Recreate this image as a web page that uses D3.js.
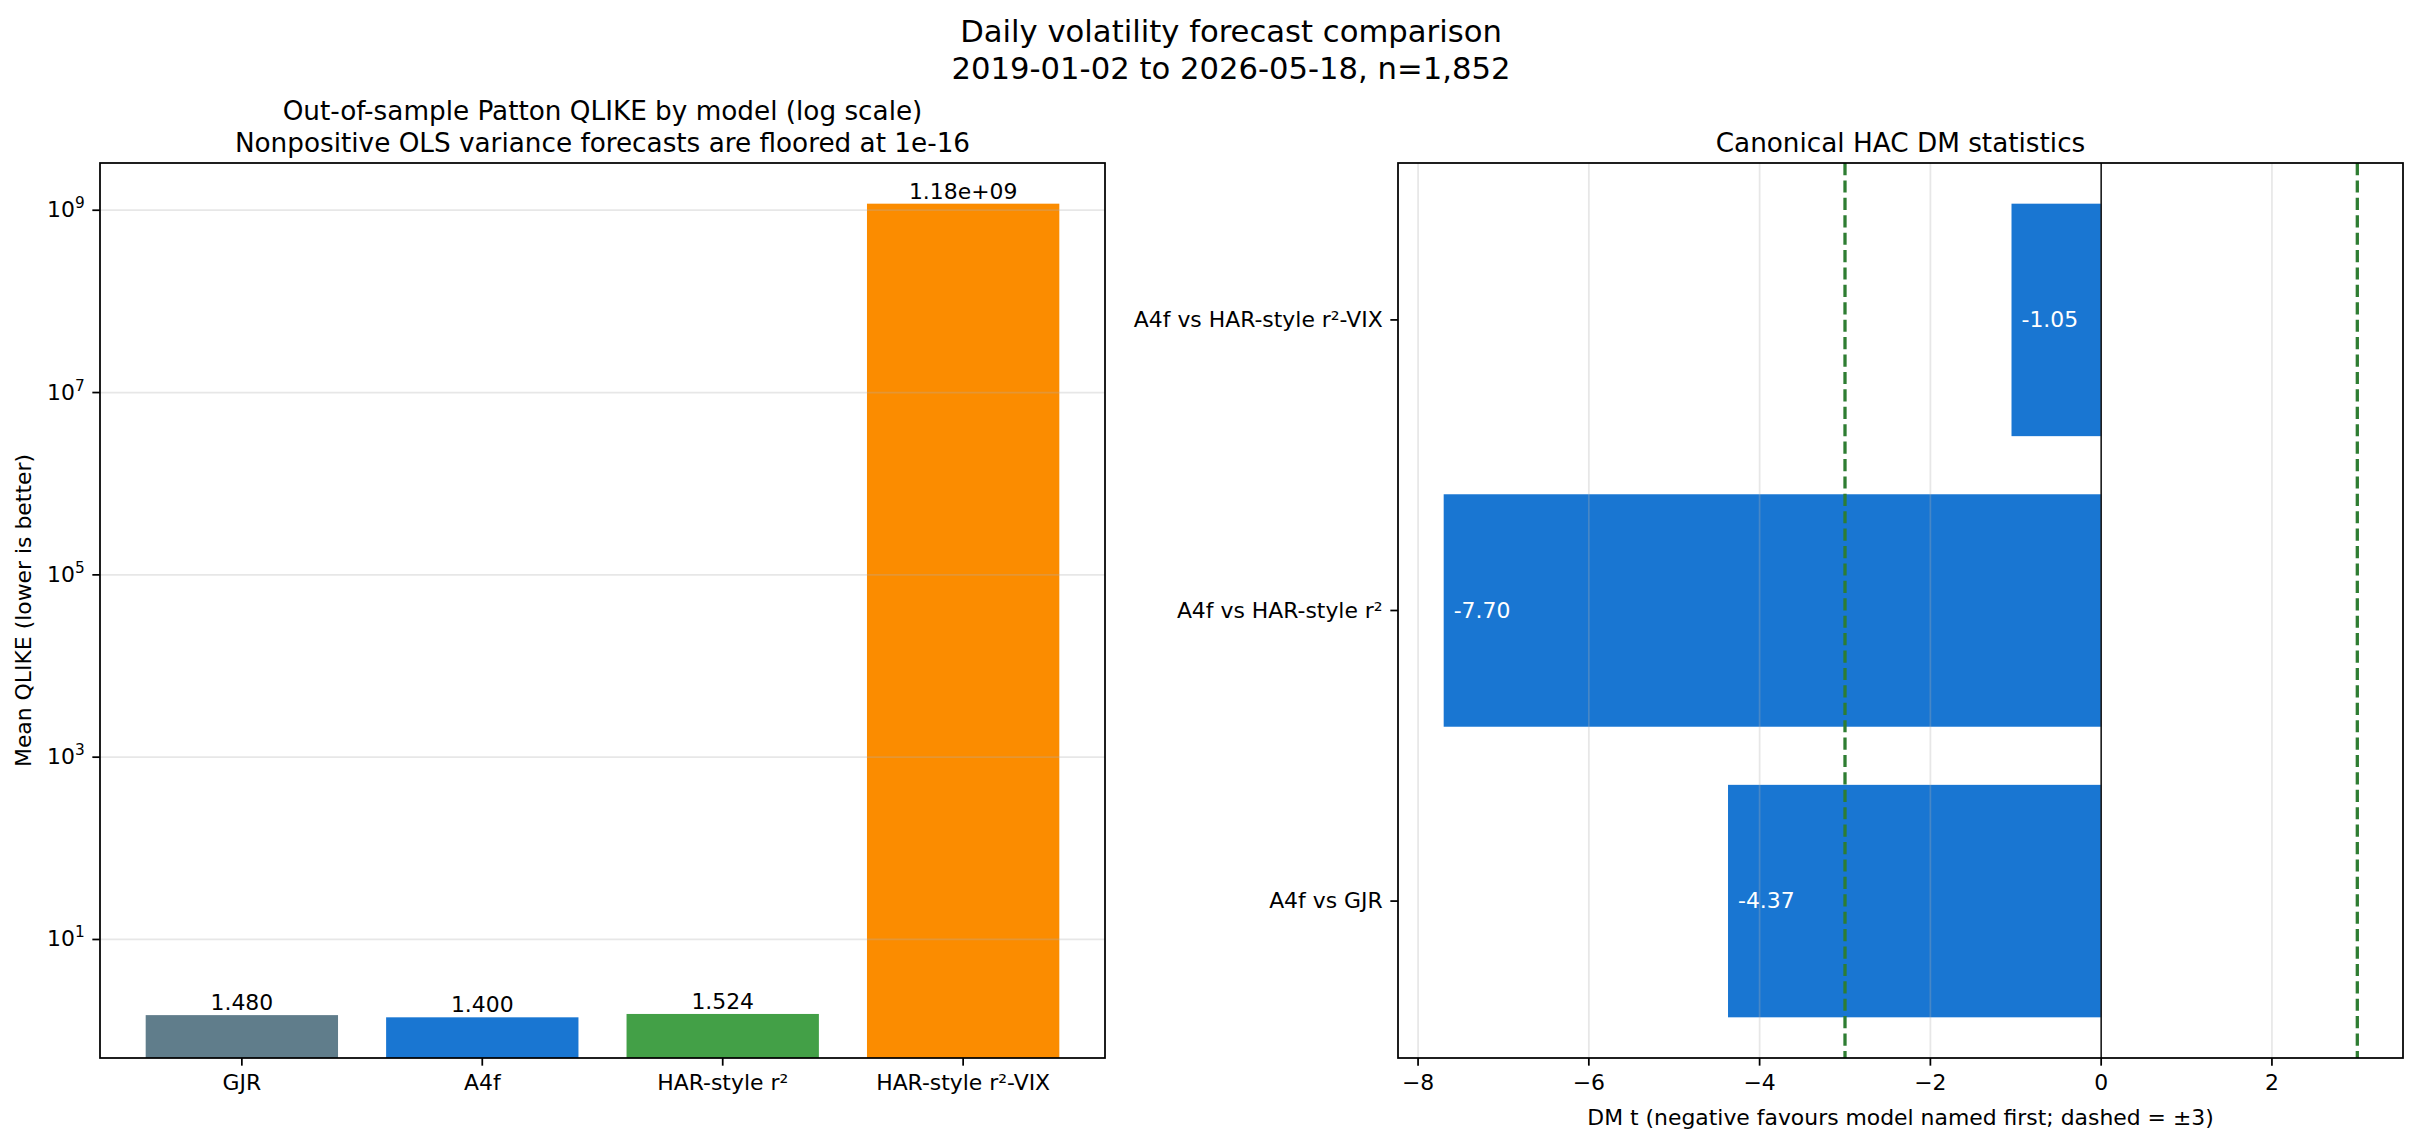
<!DOCTYPE html>
<html>
<head>
<meta charset="utf-8">
<script src="https://cdn.jsdelivr.net/npm/d3@7"></script>
<style>
  body { margin: 0; background: #fff; }
  svg { display: block; font-family: "DejaVu Sans", sans-serif; }
</style>
</head>
<body>
<div id="container"></div>
<script>
// data
var models = ["GJR", "A4f", "HAR-style r²", "HAR-style r²-VIX"];
var qlike = [1.480, 1.400, 1.524, 1.18e9];
var qlikeLabels = ["1.480", "1.400", "1.524", "1.18e+09"];
var modelColors = ["#607d8b", "#1976d2", "#43a047", "#fb8c00"];

var pairs = ["A4f vs GJR", "A4f vs HAR-style r²", "A4f vs HAR-style r²-VIX"];
var dmStat = [-4.37, -7.70, -1.05];
var dmLabels = ["-4.37", "-7.70", "-1.05"];
var dmThreshold = 3;
var logTicks = [1, 3, 5, 7, 9];
var dmTicks = [-8, -6, -4, -2, 0, 2];

var width = 2418, height = 1138;
var pt = 2.19; // px per point
var fs = 10 * pt;

var svg = d3.select("#container").append("svg")
  .attr("width", width)
  .attr("height", height);

svg.append("rect").attr("width", width).attr("height", height).style("fill", "white");

// suptitle
var sup = svg.append("text")
  .attr("text-anchor", "middle")
  .style("font-size", (14 * pt) + "px")
  .style("fill", "#000");
sup.append("tspan").attr("x", 1231).attr("y", 42).text("Daily volatility forecast comparison");
sup.append("tspan").attr("x", 1231).attr("y", 42 + 14 * pt * 1.2).text("2019-01-02 to 2026-05-18, n=1,852");

// ---------- left panel ----------
var L = {left: 100, right: 1105, top: 163, bottom: 1058};

var lo = Math.log10(d3.min(qlike)), hi = Math.log10(d3.max(qlike));
var pad = (hi - lo) * 0.05;
var yLog = d3.scaleLog()
  .domain([Math.pow(10, lo - pad), Math.pow(10, hi + pad)])
  .range([L.bottom, L.top]);

var xIdx = d3.scaleLinear()
  .domain([-0.59, models.length - 1 + 0.59])
  .range([L.left, L.right]);

var gL = svg.append("g");

gL.selectAll(".bar")
  .data(qlike)
  .enter().append("rect")
  .attr("x", function(d, i) { return xIdx(i - 0.4); })
  .attr("width", function(d, i) { return xIdx(i + 0.4) - xIdx(i - 0.4); })
  .attr("y", function(d) { return yLog(d); })
  .attr("height", function(d) { return L.bottom - yLog(d); })
  .style("fill", function(d, i) { return modelColors[i]; });

// grid over bars
gL.selectAll(".gridy")
  .data(logTicks)
  .enter().append("line")
  .attr("x1", L.left).attr("x2", L.right)
  .attr("y1", function(d) { return yLog(Math.pow(10, d)); })
  .attr("y2", function(d) { return yLog(Math.pow(10, d)); })
  .style("stroke", "#b0b0b0").style("stroke-opacity", 0.3).style("stroke-width", 0.8 * pt);

gL.selectAll(".barlabel")
  .data(qlike)
  .enter().append("text")
  .attr("x", function(d, i) { return xIdx(i); })
  .attr("y", function(d) { return yLog(d) - 5; })
  .attr("text-anchor", "middle")
  .style("font-size", fs + "px")
  .text(function(d, i) { return qlikeLabels[i]; });

// y ticks
var yt = gL.selectAll(".ytick").data(logTicks).enter().append("g")
  .attr("transform", function(d) { return "translate(0," + yLog(Math.pow(10, d)) + ")"; });
yt.append("line").attr("x1", L.left - 3.5 * pt).attr("x2", L.left)
  .style("stroke", "#000").style("stroke-width", 0.8 * pt);
var ytt = yt.append("text")
  .attr("x", L.left - 7 * pt)
  .attr("y", 7)
  .attr("text-anchor", "end")
  .style("font-size", fs + "px");
ytt.append("tspan").text("10");
ytt.append("tspan").attr("dy", -9).style("font-size", (fs * 0.7) + "px").text(function(d) { return d; });

// x ticks
var xt = gL.selectAll(".xtick").data(models).enter().append("g")
  .attr("transform", function(d, i) { return "translate(" + xIdx(i) + ",0)"; });
xt.append("line").attr("y1", L.bottom).attr("y2", L.bottom + 3.5 * pt)
  .style("stroke", "#000").style("stroke-width", 0.8 * pt);
xt.append("text").attr("y", L.bottom + 7 * pt + 0.76 * fs)
  .attr("text-anchor", "middle").style("font-size", fs + "px")
  .text(function(d) { return d; });

gL.append("rect")
  .attr("x", L.left).attr("y", L.top)
  .attr("width", L.right - L.left).attr("height", L.bottom - L.top)
  .style("fill", "none").style("stroke", "#000").style("stroke-width", 0.8 * pt);

gL.append("text")
  .attr("transform", "translate(31," + (L.top + L.bottom) / 2 + ") rotate(-90)")
  .attr("text-anchor", "middle")
  .style("font-size", fs + "px")
  .text("Mean QLIKE (lower is better)");

var tL = gL.append("text").attr("text-anchor", "middle").style("font-size", (12 * pt) + "px");
tL.append("tspan").attr("x", (L.left + L.right) / 2).attr("y", L.top - 6 * pt - 12 * pt * 1.2 + 2)
  .text("Out-of-sample Patton QLIKE by model (log scale)");
tL.append("tspan").attr("x", (L.left + L.right) / 2).attr("y", L.top - 6 * pt + 2)
  .text("Nonpositive OLS variance forecasts are floored at 1e-16");

// ---------- right panel ----------
var R = {left: 1398, right: 2403, top: 163, bottom: 1058};

var xmin = Math.min(d3.min(dmStat), -dmThreshold), xmax = Math.max(d3.max(dmStat), dmThreshold);
var xpad = (xmax - xmin) * 0.05;
var xDM = d3.scaleLinear().domain([xmin - xpad, xmax + xpad]).range([R.left, R.right]);
var yIdx = d3.scaleLinear().domain([-0.54, pairs.length - 1 + 0.54]).range([R.bottom, R.top]);

var gR = svg.append("g");

gR.selectAll(".hbar")
  .data(dmStat)
  .enter().append("rect")
  .attr("x", function(d) { return xDM(Math.min(0, d)); })
  .attr("width", function(d) { return Math.abs(xDM(d) - xDM(0)); })
  .attr("y", function(d, i) { return yIdx(i + 0.4); })
  .attr("height", function(d, i) { return yIdx(i - 0.4) - yIdx(i + 0.4); })
  .style("fill", "#1976d2");

gR.selectAll(".gridx")
  .data(dmTicks)
  .enter().append("line")
  .attr("x1", function(d) { return xDM(d); })
  .attr("x2", function(d) { return xDM(d); })
  .attr("y1", R.top).attr("y2", R.bottom)
  .style("stroke", "#b0b0b0").style("stroke-opacity", 0.3).style("stroke-width", 0.8 * pt);

gR.append("line")
  .attr("x1", xDM(0)).attr("x2", xDM(0)).attr("y1", R.top).attr("y2", R.bottom)
  .style("stroke", "#000").style("stroke-width", 1.4);

gR.selectAll(".thr")
  .data([-dmThreshold, dmThreshold])
  .enter().append("line")
  .attr("x1", function(d) { return xDM(d); })
  .attr("x2", function(d) { return xDM(d); })
  .attr("y1", R.top).attr("y2", R.bottom)
  .style("stroke", "#2e7d32").style("stroke-width", 1.5 * pt)
  .style("stroke-dasharray", (3.7 * 1.5 * pt) + "," + (1.6 * 1.5 * pt));

gR.selectAll(".dmlabel")
  .data(dmStat)
  .enter().append("text")
  .attr("x", function(d) { return xDM(d) + 10; })
  .attr("y", function(d, i) { return yIdx(i) + 7; })
  .style("font-size", fs + "px")
  .style("fill", "white")
  .text(function(d, i) { return dmLabels[i]; });

var xt2 = gR.selectAll(".xtick").data(dmTicks).enter().append("g")
  .attr("transform", function(d) { return "translate(" + xDM(d) + ",0)"; });
xt2.append("line").attr("y1", R.bottom).attr("y2", R.bottom + 3.5 * pt)
  .style("stroke", "#000").style("stroke-width", 0.8 * pt);
xt2.append("text").attr("y", R.bottom + 7 * pt + 0.76 * fs)
  .attr("text-anchor", "middle").style("font-size", fs + "px")
  .text(function(d) { return d < 0 ? "\u2212" + Math.abs(d) : d; });

var yt2 = gR.selectAll(".ytick").data(pairs).enter().append("g")
  .attr("transform", function(d, i) { return "translate(0," + yIdx(i) + ")"; });
yt2.append("line").attr("x1", R.left - 3.5 * pt).attr("x2", R.left)
  .style("stroke", "#000").style("stroke-width", 0.8 * pt);
yt2.append("text").attr("x", R.left - 7 * pt).attr("y", 7)
  .attr("text-anchor", "end").style("font-size", fs + "px")
  .text(function(d) { return d; });

gR.append("rect")
  .attr("x", R.left).attr("y", R.top)
  .attr("width", R.right - R.left).attr("height", R.bottom - R.top)
  .style("fill", "none").style("stroke", "#000").style("stroke-width", 0.8 * pt);

gR.append("text")
  .attr("x", (R.left + R.right) / 2)
  .attr("y", R.bottom + 7 * pt + fs * 1.2 + 4 * pt + 0.76 * fs)
  .attr("text-anchor", "middle")
  .style("font-size", fs + "px")
  .text("DM t (negative favours model named first; dashed = \u00b13)");

gR.append("text")
  .attr("x", (R.left + R.right) / 2)
  .attr("y", R.top - 6 * pt + 2)
  .attr("text-anchor", "middle")
  .style("font-size", (12 * pt) + "px")
  .text("Canonical HAC DM statistics");
</script>
</body>
</html>
